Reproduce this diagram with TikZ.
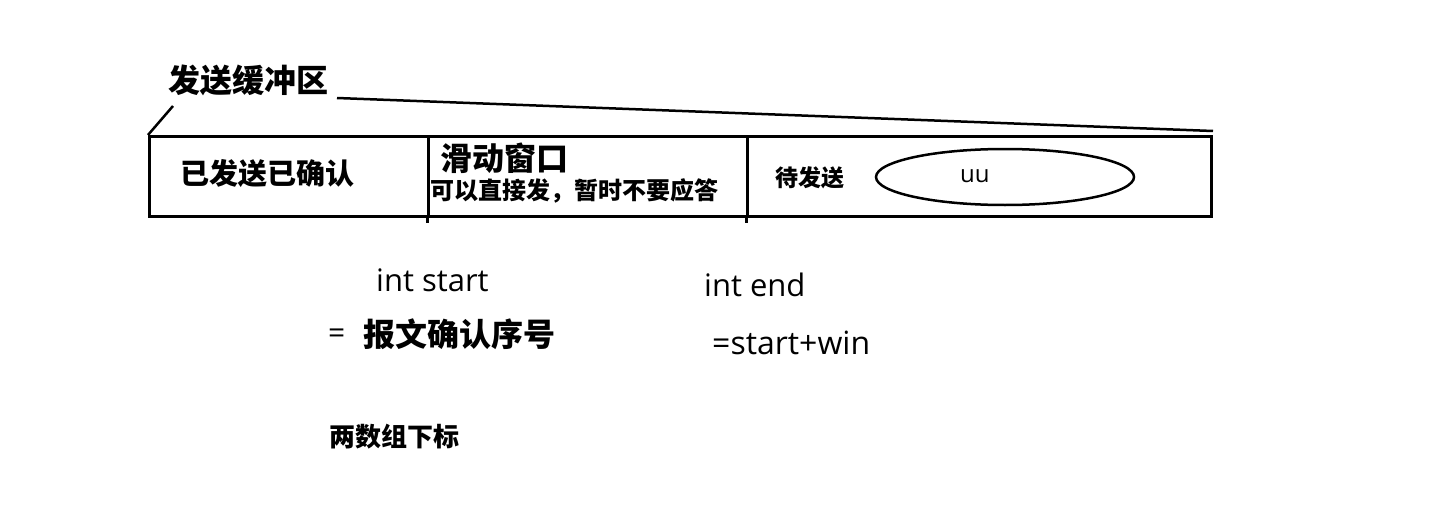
\documentclass[tikz,border=0pt]{standalone}
\usepackage{fontspec}
\setmainfont{Open Sans}
\newfontfamily\cjk{Noto Sans CJK SC}
\usetikzlibrary{shapes.geometric, positioning}

\begin{document}
\begin{tikzpicture}[x=1pt, y=-1pt,
    cell/.style={rectangle, draw, line width=3pt, minimum height=80pt, inner sep=0pt, anchor=north west},
    hand/.style={line width=2.5pt},
    lbl/.style={inner sep=0pt, anchor=west, font=\cjk\bfseries\fontsize{#1}{#1}\selectfont},
    code/.style={inner sep=0pt, anchor=west, font=\fontsize{#1}{#1}\selectfont}
  ]
  \useasboundingbox (0,0) rectangle (1434,516);

  % send buffer
  \node[cell, minimum width=279pt] (acked) at (148,135) {};
  \node[cell, minimum width=319pt] (window) at (427,135) {};
  \node[cell, minimum width=464pt] (pending) at (746,135) {};
  \draw[line width=3pt] (window.south west) -- ++(0,5);
  \draw[line width=3pt] (pending.south west) -- ++(0,5);

  \node[lbl=32] (buf) at (168,80) {发送缓冲区};
  \coordinate (bufL) at (173,106);
  \coordinate (bufR) at (337,98);
  \draw[hand] (acked.north west) -- (bufL);
  \draw[hand] (bufR) -- ([yshift=4pt]pending.north east);

  \node[lbl=29] (ackedtxt) at (180,174) {已发送已确认};
  \node[lbl=32] (wintitle) at (440,158) {滑动窗口};
  \node[lbl=24] (winnote) at (430,191) {可以直接发，暂时不要应答};
  \node[lbl=23] (pendtxt) at (775,178) {待发送};
  \node[ellipse, draw, line width=2.5pt, minimum width=258pt, minimum height=56pt] (uu) at (1005,177) {};
  \node[code=24] (uutxt) at (960,176) {uu};

  % window bounds
  \node[code=31] (startvar) at (376,280) {int start};
  \node[code=31] (endvar) at (704,285) {int end};
  \node[code=30] (eq) at (328,336) {=};
  \node[lbl=32] (startdef) at (363,334) {报文确认序号};
  \node[code=32] (enddef) at (712,343) {=start+win};
  \node[lbl=26] (index) at (329,437) {两数组下标};
\end{tikzpicture}
\end{document}
